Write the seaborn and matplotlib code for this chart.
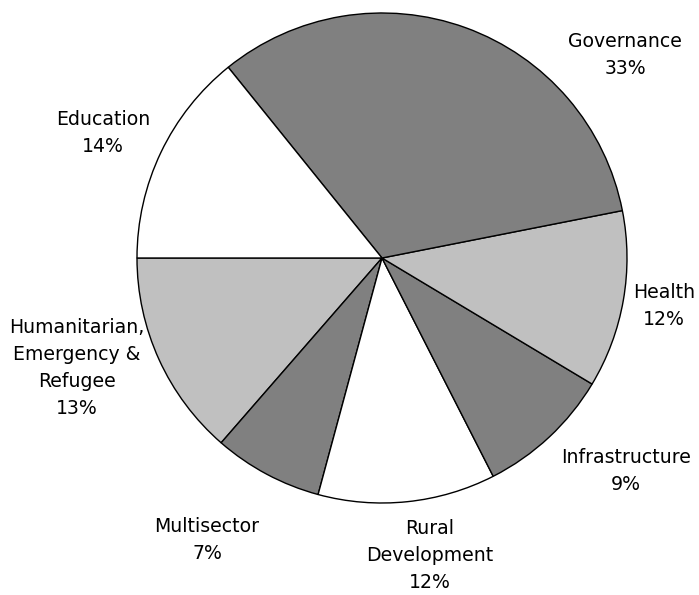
import matplotlib
matplotlib.use("Agg")
import matplotlib.pyplot as plt
import seaborn as sns

sns.set_theme(style="white")
plt.rcParams['font.family'] = ['DejaVu Sans']

categories = ["Humanitarian,\nEmergency &\nRefugee", "Multisector", "Rural\nDevelopment",
              "Infrastructure", "Health", "Governance", "Education"]
values = [13.6, 7.2, 11.7, 8.9, 11.7, 32.7, 14.2]
pct_labels = ["13%", "7%", "12%", "9%", "12%", "33%", "14%"]
colors = ["#c0c0c0", "#808080", "#ffffff", "#808080", "#c0c0c0", "#808080", "#ffffff"]
label_pos = [(-1.245, -0.449), (-0.714, -1.151), (0.196, -1.214), (0.996, -0.869),
             (1.151, -0.196), (0.992, 0.828), (-1.139, 0.510)]

fig = plt.figure(figsize=(6.99, 5.95), dpi=100)
ax = fig.add_axes([0, 0, 1, 1])
ax.pie(values, colors=colors, startangle=180, counterclock=True, radius=1.0,
       wedgeprops=dict(edgecolor="black", linewidth=1.0))
for cat, pct, (x, y) in zip(categories, pct_labels, label_pos):
    ax.text(x, y, f"{cat}\n{pct}", ha="center", va="center", fontsize=13.6,
            color="black", linespacing=1.53)
ax.set_xlim(-382 / 245, (699 - 382) / 245)
ax.set_ylim(-(595 - 258) / 245, 258 / 245)
ax.set_aspect("auto")
ax.axis("off")
fig.savefig("out.png", dpi=100)
